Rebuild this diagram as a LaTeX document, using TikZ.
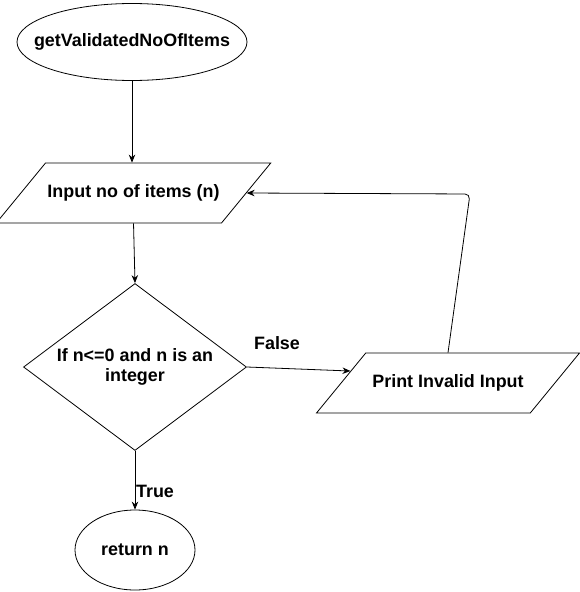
\documentclass[tikz,border=0pt]{standalone}
\usepackage{fontspec}
\setmainfont{Liberation Sans}
\usetikzlibrary{positioning,arrows.meta,shapes.geometric}

\begin{document}
\begin{tikzpicture}[
        x=1pt, y=-1pt,
        >={Stealth[length=8pt,width=6.5pt]},
        line width=0.8pt,
        every node/.style={font=\fontsize{17.9}{20}\selectfont\bfseries, align=center},
        term/.style={ellipse,draw,inner sep=-30pt},
        io/.style={trapezium,draw,trapezium left angle=50,trapezium right angle=130,
          trapezium stretches body=true,minimum width=263pt,minimum height=60pt,
          inner xsep=2pt,inner ysep=21pt},
        decision/.style={diamond,draw,minimum width=223pt,minimum height=167pt,inner sep=-40pt},
        lbl/.style={inner sep=0pt},
      ]
      \useasboundingbox (0,0) rectangle (580,592);

      % Start and input
      \node[term, minimum width=230pt, minimum height=77pt] (start) at (132,42) {getValidatedNoOfItems};
      \node[io] (pin) at (133.5,193) {Input no of items (n)};

      % Decision
      \node[decision] (dec) at (135,367) {If n<=0 and n is an\\integer};

      % Invalid branch
      \node[io] (out) at (448,383) {Print Invalid Input};
      \coordinate (turn) at (470,194);
      \node[lbl] (flbl) at (277,343) {False};

      % Return
      \node[term, minimum width=120pt, minimum height=80pt] (ret) at (135,550) {return n};
      \node[lbl] (tlbl) at (155,491) {True};

      \draw[->] (start.south) -- (start.south |- pin.north);
      \draw[->] (pin.south) -- (dec.north);
      \draw[->] (dec.south) -- (ret.north);
      \draw[->] (dec.east) -- (out.173);
      \draw[->, rounded corners=5pt] (out.north) -- (turn) -- (pin.east);
    \end{tikzpicture}
\end{document}
